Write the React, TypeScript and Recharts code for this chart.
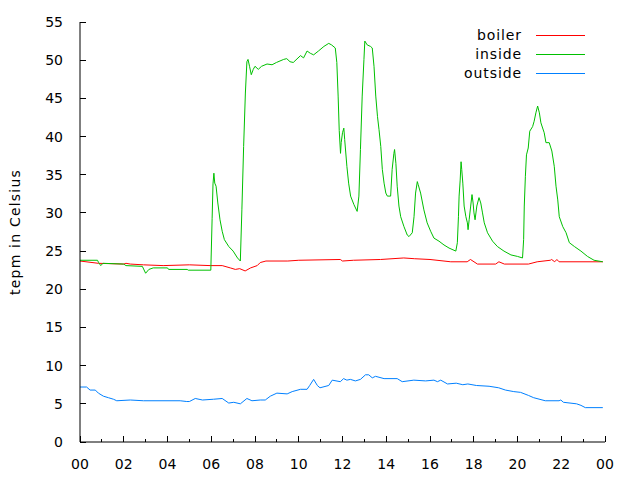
import React from "react";
import { LineChart, Line, XAxis, YAxis } from "recharts";

const xTicks = [0, 1, 2, 3, 4, 5, 6, 7, 8, 9, 10, 11, 12, 13, 14, 15, 16, 17, 18, 19, 20, 21, 22, 23, 24];
const yTicks = [0, 5, 10, 15, 20, 25, 30, 35, 40, 45, 50, 55];

const boilerHours = [0, 0.84, 2.0, 2.1, 2.3, 2.9, 3.8, 5.0, 5.95, 6.5, 6.87, 7.1, 7.3, 7.55, 7.8, 8.1, 8.24, 8.5, 9.5, 10.0, 11.9, 12.0, 12.5, 13.74, 14.8, 15.3, 16.0, 16.95, 17.7, 17.85, 18.17, 19.0, 19.15, 19.4, 20.5, 20.9, 21.5, 21.56, 21.7, 21.8, 21.9, 23.9];
const boilerTemps = [23.7, 23.4, 23.3, 23.4, 23.3, 23.2, 23.1, 23.2, 23.1, 23.1, 22.8, 22.6, 22.7, 22.4, 22.8, 23.1, 23.5, 23.7, 23.7, 23.8, 23.9, 23.7, 23.8, 23.9, 24.1, 24.0, 23.9, 23.6, 23.6, 23.9, 23.3, 23.3, 23.6, 23.3, 23.3, 23.6, 23.8, 23.9, 23.6, 23.9, 23.6, 23.6];

const insideHours = [0, 0.8, 0.85, 0.95, 1.05, 2.0, 2.1, 2.85, 3.0, 3.15, 3.35, 4.0, 4.05, 4.9, 4.95, 5.98, 6.04, 6.08, 6.12, 6.16, 6.22, 6.3, 6.4, 6.5, 6.6, 6.8, 7.0, 7.2, 7.33, 7.4, 7.48, 7.56, 7.63, 7.68, 7.75, 7.83, 7.92, 8.0, 8.15, 8.3, 8.55, 8.78, 8.98, 9.31, 9.45, 9.6, 9.75, 10.08, 10.22, 10.38, 10.53, 10.68, 10.9, 11.15, 11.37, 11.5, 11.67, 11.74, 11.8, 11.85, 11.91, 11.94, 12.0, 12.06, 12.1, 12.2, 12.28, 12.37, 12.52, 12.67, 12.75, 12.82, 12.9, 12.98, 13.02, 13.13, 13.28, 13.36, 13.44, 13.52, 13.6, 13.67, 13.75, 13.82, 13.9, 13.98, 14.05, 14.2, 14.27, 14.35, 14.38, 14.44, 14.5, 14.58, 14.66, 14.81, 14.96, 15.04, 15.19, 15.27, 15.34, 15.42, 15.46, 15.57, 15.72, 15.87, 16.03, 16.18, 16.41, 16.64, 16.87, 17.18, 17.25, 17.3, 17.33, 17.38, 17.42, 17.45, 17.5, 17.56, 17.64, 17.71, 17.74, 17.79, 17.86, 17.92, 17.97, 18.01, 18.06, 18.14, 18.24, 18.32, 18.4, 18.48, 18.63, 18.86, 19.08, 19.38, 19.7, 20.0, 20.23, 20.28, 20.31, 20.36, 20.41, 20.49, 20.56, 20.69, 20.76, 20.84, 20.92, 21.0, 21.07, 21.22, 21.3, 21.45, 21.57, 21.68, 21.76, 21.84, 21.91, 22.07, 22.22, 22.37, 22.6, 22.9, 23.2, 23.5, 23.9];
const insideTemps = [23.8, 23.8, 23.5, 23.1, 23.4, 23.3, 23.1, 23.0, 22.1, 22.6, 22.8, 22.8, 22.6, 22.6, 22.5, 22.5, 29.3, 33.8, 35.2, 33.9, 33.5, 31.3, 29.1, 27.6, 26.5, 25.6, 25.0, 24.1, 23.7, 30.4, 38.7, 45.7, 49.8, 50.1, 49.2, 48.1, 48.8, 49.2, 48.8, 49.2, 49.5, 49.4, 49.7, 50.1, 50.2, 49.8, 49.7, 50.6, 50.3, 51.2, 50.9, 50.7, 51.2, 51.8, 52.2, 52.0, 51.6, 49.7, 45.3, 40.8, 37.8, 39.2, 40.5, 41.1, 39.6, 36.1, 33.9, 32.2, 31.1, 30.2, 32.2, 38.3, 45.3, 50.1, 52.5, 52.0, 51.8, 51.6, 49.2, 45.3, 42.6, 40.9, 38.7, 35.7, 33.9, 32.6, 32.2, 32.2, 35.7, 37.8, 38.3, 36.5, 33.5, 30.9, 29.5, 28.2, 27.1, 26.9, 27.4, 29.5, 32.6, 34.1, 33.7, 32.6, 30.4, 28.7, 27.6, 26.7, 26.3, 25.8, 25.4, 25.0, 26.1, 29.5, 32.2, 34.3, 36.7, 35.7, 33.9, 30.9, 29.5, 28.7, 27.8, 29.1, 30.9, 32.4, 31.3, 30.0, 29.1, 30.9, 32.0, 31.3, 30.0, 28.7, 27.4, 26.3, 25.6, 25.0, 24.5, 24.3, 24.1, 26.5, 30.9, 34.8, 37.6, 38.5, 40.7, 41.3, 42.0, 43.1, 44.0, 43.1, 41.8, 40.5, 39.2, 39.2, 38.1, 36.1, 33.5, 31.7, 29.5, 28.2, 27.4, 26.1, 25.6, 25.0, 24.3, 23.8, 23.6];

const outsideHours = [0, 0.3, 0.46, 0.7, 0.84, 1.07, 1.3, 1.53, 1.68, 2.3, 2.9, 4.58, 4.88, 5.0, 5.27, 5.6, 6.1, 6.5, 6.8, 7.03, 7.33, 7.63, 7.86, 8.24, 8.47, 8.7, 9.0, 9.47, 9.7, 10.08, 10.38, 10.5, 10.68, 10.85, 10.97, 11.37, 11.53, 11.9, 12.05, 12.2, 12.36, 12.59, 12.82, 13.05, 13.2, 13.36, 13.51, 13.9, 14.5, 14.73, 15.26, 15.8, 16.18, 16.34, 16.49, 16.8, 17.2, 17.5, 17.73, 18.12, 18.7, 19.14, 19.45, 19.83, 20.14, 20.5, 20.74, 21.27, 21.9, 21.98, 22.1, 22.7, 22.9, 23.1, 23.9];
const outsideTemps = [7.2, 7.2, 6.8, 6.8, 6.4, 6.0, 5.8, 5.6, 5.4, 5.5, 5.4, 5.4, 5.3, 5.3, 5.7, 5.5, 5.6, 5.7, 5.1, 5.2, 5.0, 5.7, 5.4, 5.5, 5.5, 6.0, 6.4, 6.3, 6.6, 6.9, 6.9, 7.4, 8.2, 7.4, 7.1, 7.4, 8.1, 7.9, 8.3, 8.1, 8.2, 8.0, 8.2, 8.8, 8.8, 8.4, 8.6, 8.3, 8.3, 7.9, 8.1, 8.0, 8.1, 7.9, 8.1, 7.6, 7.7, 7.5, 7.6, 7.4, 7.3, 7.1, 6.8, 6.6, 6.5, 6.1, 5.8, 5.4, 5.4, 5.5, 5.2, 5.0, 4.8, 4.5, 4.5];

const seriesNames = ["boiler", "inside", "outside"];
const seriesColors = ["#ff0000", "#00c000", "#0080ff"];

const toPoints = (hs: number[], vs: number[]) => hs.map((h, i) => ({ h, v: vs[i] }));
const boilerData = toPoints(boilerHours, boilerTemps);
const insideData = toPoints(insideHours, insideTemps);
const outsideData = toPoints(outsideHours, outsideTemps);

const FONT = "'DejaVu Sans', sans-serif";
const pad = (v: number) => String(v % 24).padStart(2, "0");

const BottomTick = (props: any) => {
  const { x, y, payload } = props;
  const major = payload.value % 2 === 0;
  return (
    <g>
      <line x1={x} x2={x} y1={y} y2={y - (major ? 6 : 3)} stroke="#000" shapeRendering="crispEdges" />
      {major && (
        <text x={x} y={y + 27} textAnchor="middle" fontSize={14} fontFamily={FONT} fill="#000">
          {pad(payload.value)}
        </text>
      )}
    </g>
  );
};

const TopTick = (props: any) => {
  const { x, y, payload } = props;
  const major = payload.value % 2 === 0;
  return <line x1={x} x2={x} y1={y} y2={y + (major ? 6 : 3)} stroke="#000" shapeRendering="crispEdges" />;
};

const LeftTick = (props: any) => {
  const { x, y, payload } = props;
  return (
    <g>
      <line x1={x} x2={x + 6} y1={y} y2={y} stroke="#000" shapeRendering="crispEdges" />
      <text x={x - 17} y={y + 5} textAnchor="end" fontSize={14} fontFamily={FONT} fill="#000">
        {payload.value}
      </text>
    </g>
  );
};

const RightTick = (props: any) => {
  const { x, y } = props;
  return <line x1={x} x2={x - 6} y1={y} y2={y} stroke="#000" shapeRendering="crispEdges" />;
};

const YLabel = () => (
  <text x={15} y={232} transform="rotate(-90 15 232)" textAnchor="middle" dominantBaseline="central" fontSize={14} letterSpacing={1.2} fontFamily={FONT} fill="#000">
    tepm in Celsius
  </text>
);

export default function App() {
  const datasets = [boilerData, insideData, outsideData];
  return (
    <div style={{ position: "absolute", left: 0, top: 0, width: 640, height: 480, background: "#fff", fontFamily: FONT }}>
      <LineChart width={640} height={480} margin={{ top: 22, right: 35, bottom: 0, left: 0 }}>
        <XAxis
          xAxisId="b"
          dataKey="h"
          type="number"
          domain={[0, 24]}
          ticks={xTicks}
          interval={0}
          height={38}
          tickSize={0}
          tickMargin={0}
          tickLine={false}
          axisLine={{ stroke: "#000" }}
          tick={<BottomTick />}
          allowDataOverflow
        />
        <XAxis
          xAxisId="t"
          orientation="top"
          dataKey="h"
          type="number"
          domain={[0, 24]}
          ticks={xTicks}
          interval={0}
          height={0}
          tickSize={0}
          tickMargin={0}
          tickLine={false}
          axisLine={{ stroke: "#000" }}
          tick={<TopTick />}
          allowDataOverflow
        />
        <YAxis
          yAxisId="l"
          type="number"
          domain={[0, 55]}
          ticks={yTicks}
          interval={0}
          width={80}
          tickSize={0}
          tickMargin={0}
          tickLine={false}
          axisLine={{ stroke: "#000" }}
          tick={<LeftTick />}
          label={<YLabel />}
          allowDataOverflow
        />
        <YAxis
          yAxisId="r"
          orientation="right"
          type="number"
          domain={[0, 55]}
          ticks={yTicks}
          interval={0}
          width={0}
          tickSize={0}
          tickMargin={0}
          tickLine={false}
          axisLine={{ stroke: "#000" }}
          tick={<RightTick />}
          allowDataOverflow
        />
        {datasets.map((d, i) => (
          <Line
            key={seriesNames[i]}
            name={seriesNames[i]}
            data={d}
            dataKey="v"
            xAxisId="b"
            yAxisId="l"
            type="linear"
            stroke={seriesColors[i]}
            strokeWidth={1}
            dot={false}
            activeDot={false}
            isAnimationActive={false}
          />
        ))}
      </LineChart>
      <svg width={640} height={480} style={{ position: "absolute", left: 0, top: 0, pointerEvents: "none" }}>
        {seriesNames.map((n, i) => (
          <g key={n}>
            <text x={522} y={35 + i * 19 + 5} textAnchor="end" fontSize={14} letterSpacing={0.9} fontFamily={FONT} fill="#000">
              {n}
            </text>
            <line x1={536} x2={585} y1={35 + i * 19} y2={35 + i * 19} stroke={seriesColors[i]} strokeWidth={1} shapeRendering="crispEdges" />
          </g>
        ))}
      </svg>
    </div>
  );
}
